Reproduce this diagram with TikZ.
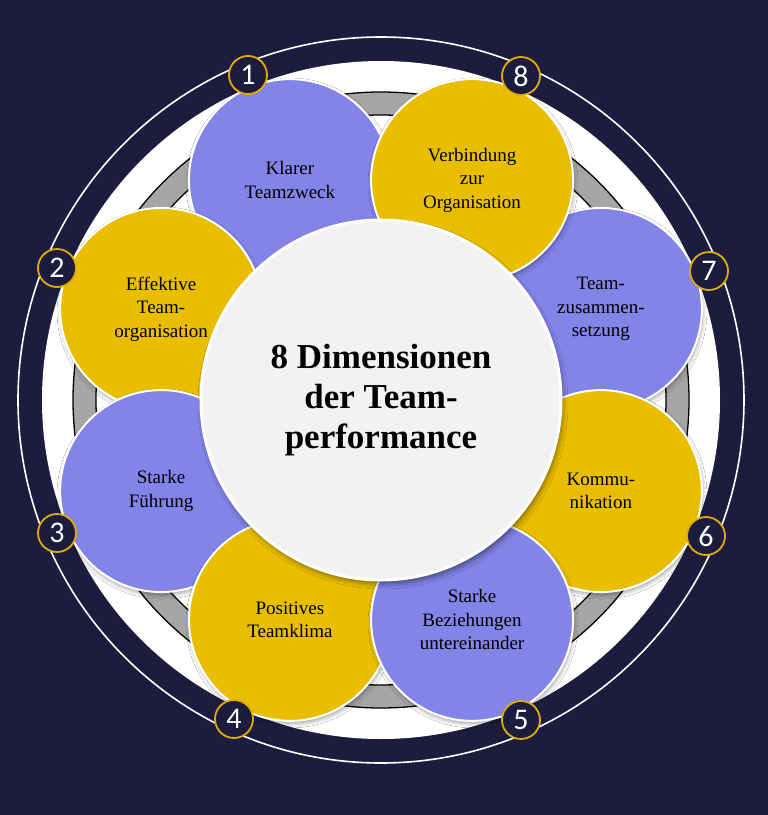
\documentclass[tikz,border=0pt]{standalone}
\usepackage{fontspec}
\setmainfont{Liberation Serif}
\newfontfamily\numfont{Carlito}
\usepackage{tikz}
\usetikzlibrary{positioning,shadows.blur}
\definecolor{navyBg}{RGB}{29,28,62}
\definecolor{teamBlue}{RGB}{131,131,232}
\definecolor{teamGold}{RGB}{233,190,0}
\definecolor{badgeGold}{RGB}{222,172,0}
\definecolor{ringGray}{RGB}{166,166,166}
\definecolor{coreGray}{RGB}{242,242,242}

\begin{document}
\begin{tikzpicture}[x=1pt,y=1pt,
    petal/.style={circle,minimum size=202pt,inner sep=0pt,draw=white,line width=2pt,
      align=center,font=\fontsize{19}{23.5}\selectfont,
      blur shadow={shadow xshift=1pt,shadow yshift=-3pt,shadow opacity=35,shadow blur radius=4pt}},
    badge/.style={circle,minimum size=38pt,inner sep=0pt,fill=navyBg,draw=badgeGold,
      line width=1.8pt,text=white,font=\numfont\fontsize{30}{30}\selectfont}]
        % Background
        \fill[navyBg] (-381,-415) rectangle (387,400);
        \useasboundingbox (-381,-415) rectangle (387,400);
        \fill[white] (0,0) circle (339);
        \draw[white,line width=1.6pt] (0,0) circle (363);
        % Gray ring
        \fill[ringGray,even odd rule] (0,0) circle (308) (0,0) circle (285);
        \draw[black,line width=1.3pt] (0,0) circle (308) (0,0) circle (285);
        % Petals
        \node[petal,fill=teamBlue] (p1) at (112.5:238) {Klarer\\Teamzweck};
        \node[petal,fill=teamBlue] (p7) at (22.5:238) {Team-\\zusammen-\\setzung};
        \node[petal,fill=teamGold] (p2) at (157.5:238) {Effektive\\Team-\\organisation};
        \node[petal,fill=teamGold] (p8) at (67.5:238) {Verbindung\\zur\\Organisation};
        \node[petal,fill=teamBlue] (p3) at (202.5:238) {Starke\\Führung};
        \node[petal,fill=teamGold] (p6) at (337.5:238) {Kommu-\\nikation};
        \node[petal,fill=teamGold] (p4) at (247.5:238) {Positives\\Teamklima};
        \node[petal,fill=teamBlue] (p5) at (292.5:238) {Starke\\Beziehungen\\untereinander};
        % Centre
        \node[circle,minimum size=360pt,inner sep=0pt,fill=coreGray,draw=white,line width=3pt,
          align=center,font=\bfseries\fontsize{35}{40}\selectfont,
          blur shadow={shadow xshift=2pt,shadow yshift=-4pt,shadow opacity=45,shadow blur radius=5pt}]
          (core) at (0,0) {8 Dimensionen\\der Team-\\performance};
        % Numbers
        \node[badge] (b1) at (-133,325) {1};
        \node[badge] (b2) at (-324,132) {2};
        \node[badge] (b3) at (-324,-133) {3};
        \node[badge] (b4) at (-147,-319) {4};
        \node[badge] (b5) at (140,-320) {5};
        \node[badge] (b6) at (325,-136) {6};
        \node[badge] (b7) at (328,129) {7};
        \node[badge] (b8) at (140,324) {8};
      \end{tikzpicture}
\end{document}
